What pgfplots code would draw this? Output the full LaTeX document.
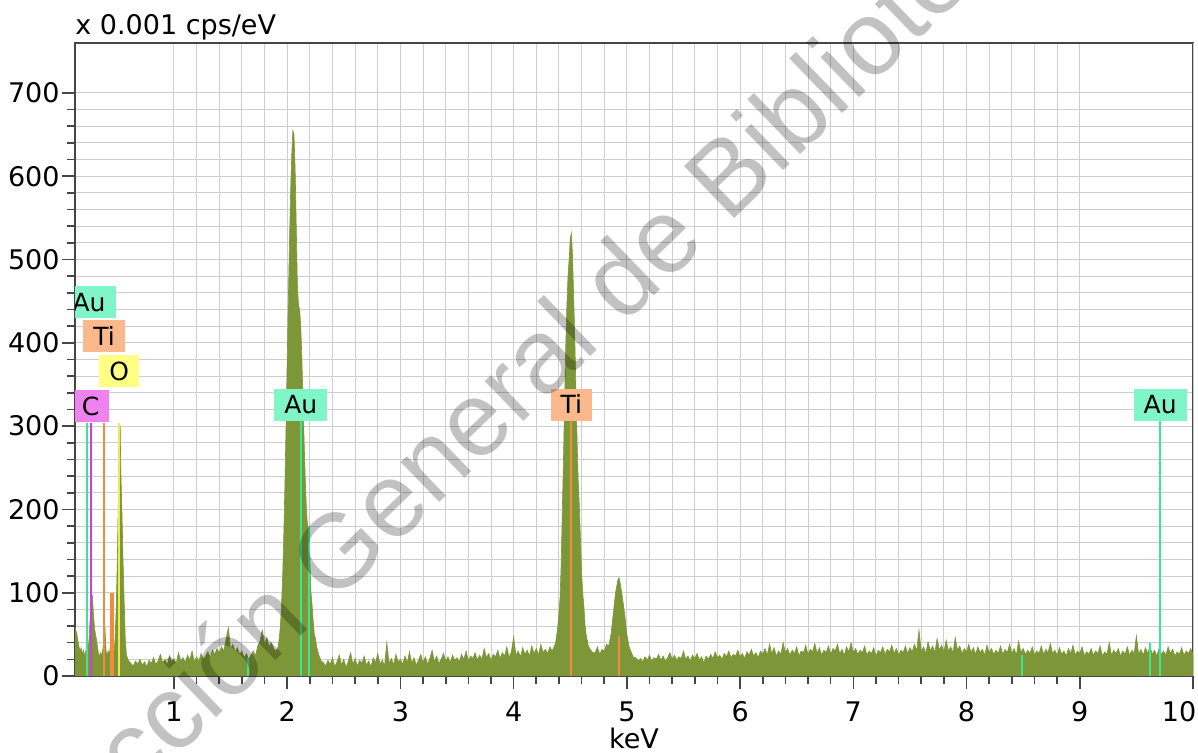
\documentclass[border=0pt]{standalone}
\usepackage{fontspec}
\setmainfont{DejaVu Sans}
\newfontfamily\wmfont{Liberation Sans}
\usepackage{pgfplots}
\pgfplotsset{compat=1.18}

\definecolor{spec}{RGB}{125,150,55}
\definecolor{gridc}{RGB}{205,205,212}
\definecolor{axc}{RGB}{70,70,70}
\definecolor{aubg}{RGB}{128,245,200}
\definecolor{auline}{RGB}{60,228,150}
\definecolor{tibg}{RGB}{250,185,140}
\definecolor{tiline}{RGB}{240,140,60}
\definecolor{obg}{RGB}{255,255,130}
\definecolor{oline}{RGB}{236,236,80}
\definecolor{cbg}{RGB}{240,130,240}
\definecolor{cline}{RGB}{210,60,220}

\tikzset{elbox/.style={inner xsep=5pt, inner ysep=3.4pt, text height=9.2pt, text depth=0pt,
  anchor=south, font=\fontsize{12.5}{14}\selectfont}}

\begin{document}
\fontsize{13.5}{16}\selectfont
\begin{tikzpicture}
\begin{axis}[
  scale only axis, width=559pt, height=316.5pt,
  xmin=0.126, xmax=10, ymin=0, ymax=760,
  xtick={1,...,9}, ytick={0,100,...,700},
  minor x tick num=4, minor y tick num=4,
  extra x ticks={10}, extra x tick style={xticklabel style={xshift=-7pt}},
  grid=both,
  major grid style={draw=gridc, line width=0.5pt},
  minor grid style={draw=gridc, line width=0.5pt},
  tick align=outside, tick pos=left,
  major tick length=6.5pt, minor tick length=4pt,
  tick style={draw=axc, line width=0.8pt},
  axis line style={draw=axc, line width=1pt},
  /pgf/number format/assume math mode=true,
  yticklabel style={inner sep=1pt},
  xticklabel style={yshift=-1.5pt},
  xlabel={keV},
  xlabel style={at={(axis description cs:0.5,0)}, anchor=base, inner sep=0pt, yshift=-36.5pt},
  title={x 0.001 cps/eV},
  title style={at={(axis description cs:0,1)}, anchor=base west, inner sep=0pt, yshift=-2pt},
]
% spectrum
\addplot[draw=spec, fill=spec, line width=0.3pt] coordinates {
(0.126,58) (0.13,57) (0.14,52) (0.15,44) (0.16,36) (0.17,30) (0.18,34) (0.19,26) (0.20,31) (0.21,24)
(0.22,29) (0.23,36) (0.24,30) (0.25,44) (0.26,70) (0.27,100) (0.28,96) (0.29,72) (0.30,56) (0.31,48)
(0.32,40) (0.33,30) (0.34,22) (0.35,28) (0.36,24) (0.37,31) (0.38,40) (0.39,60) (0.40,30) (0.41,25)
(0.42,30) (0.43,27) (0.44,36) (0.45,42) (0.46,30) (0.47,26) (0.48,45) (0.49,80) (0.50,140) (0.51,220)
(0.52,295) (0.525,300) (0.53,250) (0.54,200) (0.55,140) (0.56,90) (0.57,45) (0.58,25) (0.60,18)
(0.62,15) (0.64,12) (0.66,18) (0.68,14) (0.70,20) (0.72,13) (0.74,17) (0.76,11) (0.78,19) (0.80,15)
(0.82,22) (0.84,14) (0.86,18) (0.88,26) (0.90,16) (0.92,20) (0.94,13) (0.96,24) (0.98,17) (1.00,21)
(1.02,15) (1.04,28) (1.06,18) (1.08,22) (1.10,16) (1.12,25) (1.14,19) (1.16,30) (1.18,17) (1.20,23)
(1.22,18) (1.24,27) (1.26,20) (1.28,24) (1.30,29) (1.32,22) (1.34,31) (1.36,26) (1.38,33) (1.40,28)
(1.42,35) (1.44,30) (1.46,44) (1.48,58) (1.50,32) (1.52,38) (1.54,29) (1.56,34) (1.58,26) (1.60,30)
(1.62,22) (1.64,27) (1.66,20) (1.68,25) (1.70,30) (1.72,24) (1.74,36) (1.76,42) (1.78,55) (1.80,38)
(1.82,46) (1.84,35) (1.86,40) (1.88,33) (1.90,30)
(1.91,32) (1.92,35) (1.93,45) (1.94,60) (1.95,85) (1.96,120) (1.97,170) (1.98,230) (1.99,300) (2.00,380)
(2.01,450) (2.02,520) (2.03,580) (2.04,625) (2.05,655) (2.06,650) (2.07,610) (2.08,540) (2.09,470) (2.10,445)
(2.11,440) (2.12,420) (2.13,380) (2.14,330) (2.15,280) (2.16,235) (2.17,200) (2.18,180) (2.19,175) (2.20,140)
(2.21,100) (2.22,85) (2.23,65) (2.24,50) (2.25,45) (2.26,35) (2.28,25) (2.30,18)
(2.32,16) (2.34,12) (2.36,19) (2.38,14) (2.40,22) (2.42,11) (2.44,17) (2.46,25) (2.48,13) (2.50,20)
(2.52,10) (2.54,18) (2.56,28) (2.58,14) (2.60,21) (2.62,12) (2.64,19) (2.66,15) (2.68,24) (2.70,13)
(2.72,18) (2.74,11) (2.76,22) (2.78,16) (2.80,27) (2.82,14) (2.84,19) (2.86,12) (2.88,40) (2.90,15)
(2.92,21) (2.94,13) (2.96,26) (2.98,17) (3.00,20) (3.02,14) (3.04,24) (3.06,16) (3.08,29) (3.10,15)
(3.12,22) (3.14,13) (3.16,19) (3.18,26) (3.20,16) (3.22,23) (3.24,14) (3.26,21) (3.28,31) (3.30,17)
(3.32,24) (3.34,15) (3.36,20) (3.38,27) (3.40,18) (3.42,23) (3.44,16) (3.46,25) (3.48,19) (3.50,22)
(3.52,17) (3.54,26) (3.56,20) (3.58,30) (3.60,18) (3.62,24) (3.64,21) (3.66,28) (3.68,19) (3.70,25)
(3.72,20) (3.74,33) (3.76,22) (3.78,27) (3.80,19) (3.82,26) (3.84,23) (3.86,31) (3.88,21) (3.90,28)
(3.92,24) (3.94,35) (3.96,22) (3.98,29) (4.00,47) (4.02,25) (4.04,30) (4.06,23) (4.08,34) (4.10,26)
(4.12,31) (4.14,24) (4.16,36) (4.18,27) (4.20,33) (4.22,25) (4.24,38) (4.26,28) (4.28,32) (4.30,27)
(4.32,35) (4.34,30) (4.36,36)
(4.37,40) (4.38,48) (4.39,60) (4.40,75) (4.41,95) (4.42,135) (4.43,200) (4.44,260) (4.45,330) (4.46,395)
(4.47,445) (4.48,480) (4.49,500) (4.50,525) (4.51,532) (4.52,505) (4.53,455) (4.54,405) (4.55,345) (4.56,285)
(4.57,235) (4.58,205) (4.59,165) (4.60,125) (4.61,100) (4.62,85) (4.63,62) (4.64,50) (4.66,36) (4.68,31)
(4.70,28) (4.72,28) (4.74,35) (4.76,26) (4.78,32) (4.80,30) (4.82,38)
(4.84,36) (4.86,50) (4.88,75) (4.90,100) (4.92,115) (4.93,118) (4.94,112) (4.96,95) (4.98,75) (5.00,50)
(5.02,35) (5.04,28) (5.06,22)
(5.08,22) (5.10,18) (5.12,21) (5.14,17) (5.16,23) (5.18,19) (5.20,25) (5.22,18) (5.24,22) (5.26,20)
(5.28,26) (5.30,19) (5.32,24) (5.34,18) (5.36,22) (5.38,28) (5.40,20) (5.42,25) (5.44,19) (5.46,23)
(5.48,21) (5.50,30) (5.52,20) (5.54,24) (5.56,18) (5.58,25) (5.60,21) (5.62,27) (5.64,19) (5.66,23)
(5.68,16) (5.70,24) (5.72,20) (5.74,26) (5.76,21) (5.78,29) (5.80,22) (5.82,25) (5.84,20) (5.86,27)
(5.88,23) (5.90,30) (5.92,22) (5.94,26) (5.96,24) (5.98,31) (6.00,23) (6.02,27) (6.04,21) (6.06,29)
(6.08,25) (6.10,32) (6.12,24) (6.14,28) (6.16,22) (6.18,30) (6.20,26) (6.22,33) (6.24,25) (6.26,38)
(6.28,27) (6.30,34) (6.32,24) (6.34,30) (6.36,26) (6.38,40) (6.40,28) (6.42,33) (6.44,25) (6.46,31)
(6.48,27) (6.50,35) (6.52,24) (6.54,30) (6.56,28) (6.58,37) (6.60,26) (6.62,32) (6.64,29) (6.66,39)
(6.68,27) (6.70,34) (6.72,25) (6.74,31) (6.76,28) (6.78,36) (6.80,26) (6.82,33) (6.84,30) (6.86,38)
(6.88,27) (6.90,32) (6.92,25) (6.94,35) (6.96,29) (6.98,40) (7.00,28) (7.02,33) (7.04,26) (7.06,31)
(7.08,28) (7.10,36) (7.12,25) (7.14,30) (7.16,27) (7.18,34) (7.20,24) (7.22,31) (7.24,28) (7.26,35)
(7.28,26) (7.30,32) (7.32,29) (7.34,37) (7.36,27) (7.38,33) (7.40,25) (7.42,31) (7.44,28) (7.46,36)
(7.48,27) (7.50,34) (7.52,29) (7.54,38) (7.56,30) (7.58,55) (7.60,29) (7.62,35) (7.64,27) (7.66,41)
(7.68,30) (7.70,36) (7.72,28) (7.74,45) (7.76,31) (7.78,37) (7.80,29) (7.82,43) (7.84,30) (7.86,35)
(7.88,28) (7.90,46) (7.92,31) (7.94,36) (7.96,27) (7.98,33) (8.00,29) (8.02,38) (8.04,28) (8.06,34)
(8.08,26) (8.10,35) (8.12,28) (8.14,32) (8.16,25) (8.18,37) (8.20,28) (8.22,33) (8.24,26) (8.26,31)
(8.28,27) (8.30,36) (8.32,26) (8.34,32) (8.36,28) (8.38,38) (8.40,27) (8.42,33) (8.44,25) (8.46,42)
(8.48,28) (8.50,33) (8.52,26) (8.54,31) (8.56,27) (8.58,35) (8.60,25) (8.62,30) (8.64,27) (8.66,36)
(8.68,26) (8.70,32) (8.72,28) (8.74,39) (8.76,27) (8.78,31) (8.80,25) (8.82,34) (8.84,26) (8.86,30)
(8.88,24) (8.90,33) (8.92,27) (8.94,37) (8.96,25) (8.98,30) (9.00,27) (9.02,35) (9.04,24) (9.06,29)
(9.08,26) (9.10,33) (9.12,25) (9.14,30) (9.16,27) (9.18,36) (9.20,24) (9.22,29) (9.24,26) (9.26,40)
(9.28,25) (9.30,31) (9.32,27) (9.34,33) (9.36,24) (9.38,30) (9.40,26) (9.42,35) (9.44,25) (9.46,31)
(9.48,27) (9.50,48) (9.52,26) (9.54,32) (9.56,25) (9.58,34) (9.60,27) (9.62,36) (9.64,26) (9.66,31)
(9.68,24) (9.70,33) (9.72,26) (9.74,30) (9.76,25) (9.78,35) (9.80,27) (9.82,32) (9.84,24) (9.86,29)
(9.88,26) (9.90,34) (9.92,25) (9.94,30) (9.96,27) (9.98,33) (10.00,26)
} \closedcycle;
% element lines
\addplot[auline, line width=1pt] coordinates {(0.233,0) (0.233,304)};
\addplot[cline, line width=1pt] coordinates {(0.263,0) (0.263,304)};
\addplot[tiline, line width=1pt] coordinates {(0.385,0) (0.385,304)};
\addplot[tiline, line width=2pt] coordinates {(0.450,0) (0.450,100)};
\addplot[oline, line width=1pt] coordinates {(0.517,0) (0.517,304)};
\addplot[auline, line width=1pt] coordinates {(1.65,0) (1.65,22)};
\addplot[auline, line width=1pt] coordinates {(2.12,0) (2.12,306)};
\addplot[auline, line width=1pt] coordinates {(2.195,0) (2.195,180)};
\addplot[tiline, line width=1pt] coordinates {(4.51,0) (4.51,306)};
\addplot[tiline, line width=1pt] coordinates {(4.93,0) (4.93,48)};
\addplot[auline, line width=1pt] coordinates {(8.49,0) (8.49,25)};
\addplot[auline, line width=1pt] coordinates {(9.62,0) (9.62,40)};
\addplot[auline, line width=1pt] coordinates {(9.71,0) (9.71,306)};
% element labels
\node[elbox, fill=aubg] at (axis cs:0.25,429) {Au};
\node[elbox, fill=tibg] at (axis cs:0.383,388) {Ti};
\node[elbox, fill=obg] at (axis cs:0.517,346) {O};
\node[elbox, fill=cbg] at (axis cs:0.263,304) {C};
\node[elbox, fill=aubg] at (axis cs:2.12,306) {Au};
\node[elbox, fill=tibg] at (axis cs:4.51,306) {Ti};
\node[elbox, fill=aubg] at (axis cs:9.71,306) {Au};
\coordinate (wm) at (axis cs:4.05,364);
\coordinate (ll) at (rel axis cs:0,0);
\coordinate (ur) at (rel axis cs:1,1);
\end{axis}
\node[overlay, rotate=44, font=\wmfont\fontsize{52.5}{60}\selectfont, text=black, text opacity=0.24]
  at (wm) {Dirección General de Bibliotecas};
\pgfresetboundingbox
\useasboundingbox ([xshift=-37.5pt,yshift=-38.5pt]ll) rectangle ([xshift=2.5pt,yshift=21.5pt]ur);
\end{tikzpicture}
\end{document}
